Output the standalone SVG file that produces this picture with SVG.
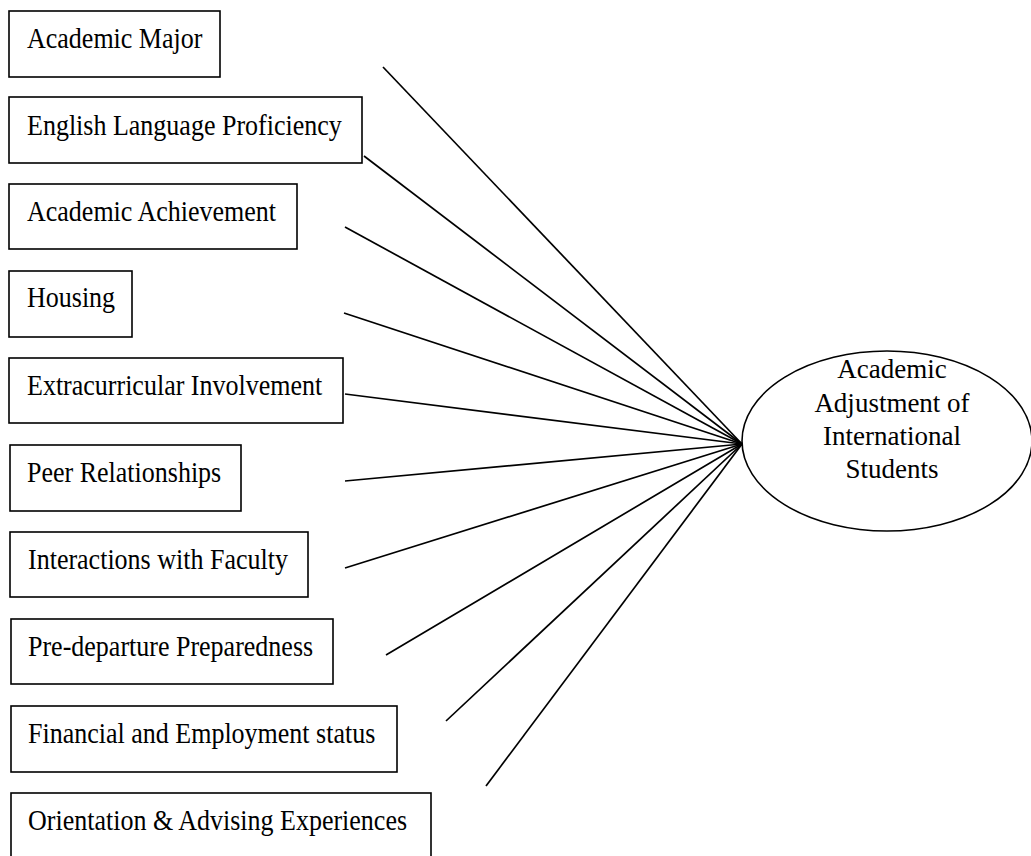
<svg xmlns="http://www.w3.org/2000/svg" width="1031" height="856" viewBox="0 0 1031 856">
<style>
.box{fill:#fff;stroke:#000;stroke-width:1.6}
.t{font-family:"Liberation Serif","Times New Roman",serif;font-size:26px;fill:#000}
.e{font-family:"Liberation Serif","Times New Roman",serif;font-size:27px;fill:#000;text-anchor:middle}
.ln{stroke:#000;stroke-width:1.7;fill:none}
</style>
<rect width="1031" height="856" fill="#fff"/>
<g id="connectors">
<line class="ln" x1="383" y1="67" x2="742" y2="444"/>
<line class="ln" x1="364" y1="156" x2="742" y2="444"/>
<line class="ln" x1="345" y1="227" x2="742" y2="444"/>
<line class="ln" x1="344" y1="313" x2="742" y2="444"/>
<line class="ln" x1="345" y1="394" x2="742" y2="444"/>
<line class="ln" x1="345" y1="481" x2="742" y2="444"/>
<line class="ln" x1="345" y1="568" x2="742" y2="444"/>
<line class="ln" x1="386" y1="655" x2="742" y2="444"/>
<line class="ln" x1="446" y1="721" x2="742" y2="444"/>
<line class="ln" x1="486" y1="786" x2="742" y2="444"/>
</g>
<g id="n1"><rect class="box" x="9" y="11" width="211" height="66"/><text class="t" transform="translate(27 48) scale(1 1.1)">Academic Major</text></g>
<g id="n2"><rect class="box" x="9" y="97" width="353" height="66"/><text class="t" transform="translate(27 135) scale(1 1.1)">English Language Proficiency</text></g>
<g id="n3"><rect class="box" x="9" y="184" width="288" height="65"/><text class="t" transform="translate(27 221) scale(1 1.1)">Academic Achievement</text></g>
<g id="n4"><rect class="box" x="9" y="271" width="123" height="66"/><text class="t" transform="translate(27 307) scale(1 1.1)">Housing</text></g>
<g id="n5"><rect class="box" x="9" y="358" width="334" height="65"/><text class="t" transform="translate(27 395) scale(1 1.1)">Extracurricular Involvement</text></g>
<g id="n6"><rect class="box" x="10" y="445" width="231" height="66"/><text class="t" transform="translate(27 482) scale(1 1.1)">Peer Relationships</text></g>
<g id="n7"><rect class="box" x="10" y="532" width="298" height="65"/><text class="t" transform="translate(28 569) scale(1 1.1)">Interactions with Faculty</text></g>
<g id="n8"><rect class="box" x="11" y="619" width="322" height="65"/><text class="t" transform="translate(28 656) scale(1 1.1)">Pre-departure Preparedness</text></g>
<g id="n9"><rect class="box" x="11" y="706" width="386" height="66"/><text class="t" transform="translate(28 743) scale(1 1.1)">Financial and Employment status</text></g>
<g id="n10"><rect class="box" x="11" y="793" width="420" height="70"/><text class="t" transform="translate(28 830) scale(1 1.1)">Orientation &amp; Advising Experiences</text></g>
<g id="target">
<ellipse class="box" cx="887" cy="441" rx="145" ry="90"/>
<text class="e" x="892" y="378">Academic</text>
<text class="e" x="892" y="412">Adjustment of</text>
<text class="e" x="892" y="445">International</text>
<text class="e" x="892" y="478">Students</text>
</g>
</svg>
